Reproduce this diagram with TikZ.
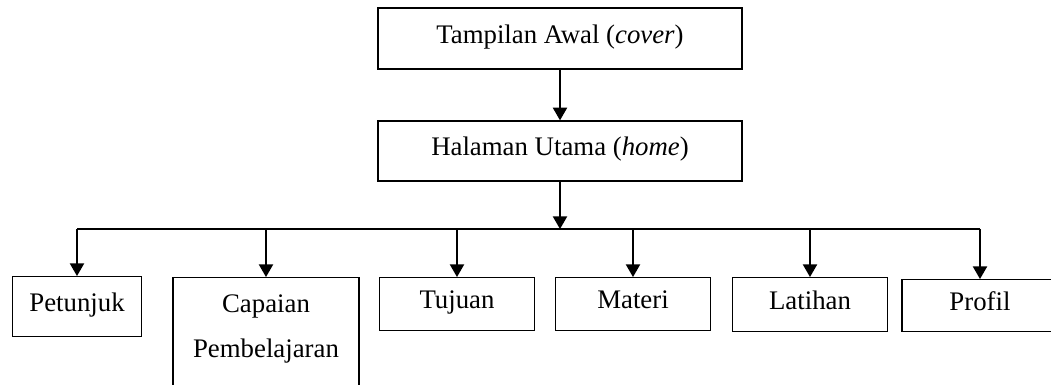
\documentclass[tikz,border=0pt]{standalone}
\usepackage{fontspec}
\setmainfont{Liberation Serif}
\usepackage{tikz}
\usetikzlibrary{arrows}

\begin{document}
\begin{tikzpicture}[x=0.5pt,y=-0.5pt,line width=0.7pt,
    box/.style={draw,inner sep=0pt,text height=0.69em,text depth=0.22em,
      font=\fontsize{13.4}{22.5}\selectfont},
    leaf/.style={box,anchor=north}]
          \useasboundingbox (0,0) rectangle (1051,385);
          \clip (0,0) rectangle (1051,385);
          % Cover
          \node[box,minimum width=182pt,minimum height=30.5pt] (cover) at (560,38.5) {Tampilan Awal (\textit{cover})};
          % Home
          \node[box,minimum width=182pt,minimum height=30pt] (home) at (560,151) {Halaman Utama (\textit{home})};
          % menu pages
          \node[leaf,minimum width=64.5pt,minimum height=30pt] (petunjuk) at (77,276) {Petunjuk};
          \node[leaf,minimum width=93pt,inner ysep=8.5pt,align=center,text height=,text depth=25pt] (capaian) at (266,277) {Capaian\\Pembelajaran};
          \node[leaf,minimum width=77.5pt,minimum height=26.5pt] (tujuan) at (457,277) {Tujuan};
          \node[leaf,minimum width=77.5pt,minimum height=26.5pt] (materi) at (633,277) {Materi};
          \node[leaf,minimum width=77.5pt,minimum height=27pt] (latihan) at (810,277) {Latihan};
          \node[leaf,minimum width=78pt,minimum height=26pt] (profil) at (980,279) {Profil};
          \coordinate (bus) at (560,229);
          % line between cover and home
          \draw [-triangle 60] (cover) -- (home);
          % line between home and bus
          \draw [-triangle 60] (home) -- (bus);
          % bus
          \draw (bus -| petunjuk.north) -- (bus -| profil.north);
          % lines from bus to pages
          \draw [-triangle 60] (bus -| petunjuk.north) -- (petunjuk);
          \draw [-triangle 60] (bus -| capaian.north) -- (capaian);
          \draw [-triangle 60] (bus -| tujuan.north) -- (tujuan);
          \draw [-triangle 60] (bus -| materi.north) -- (materi);
          \draw [-triangle 60] (bus -| latihan.north) -- (latihan);
          \draw [-triangle 60] (bus -| profil.north) -- (profil);
        \end{tikzpicture}
\end{document}
